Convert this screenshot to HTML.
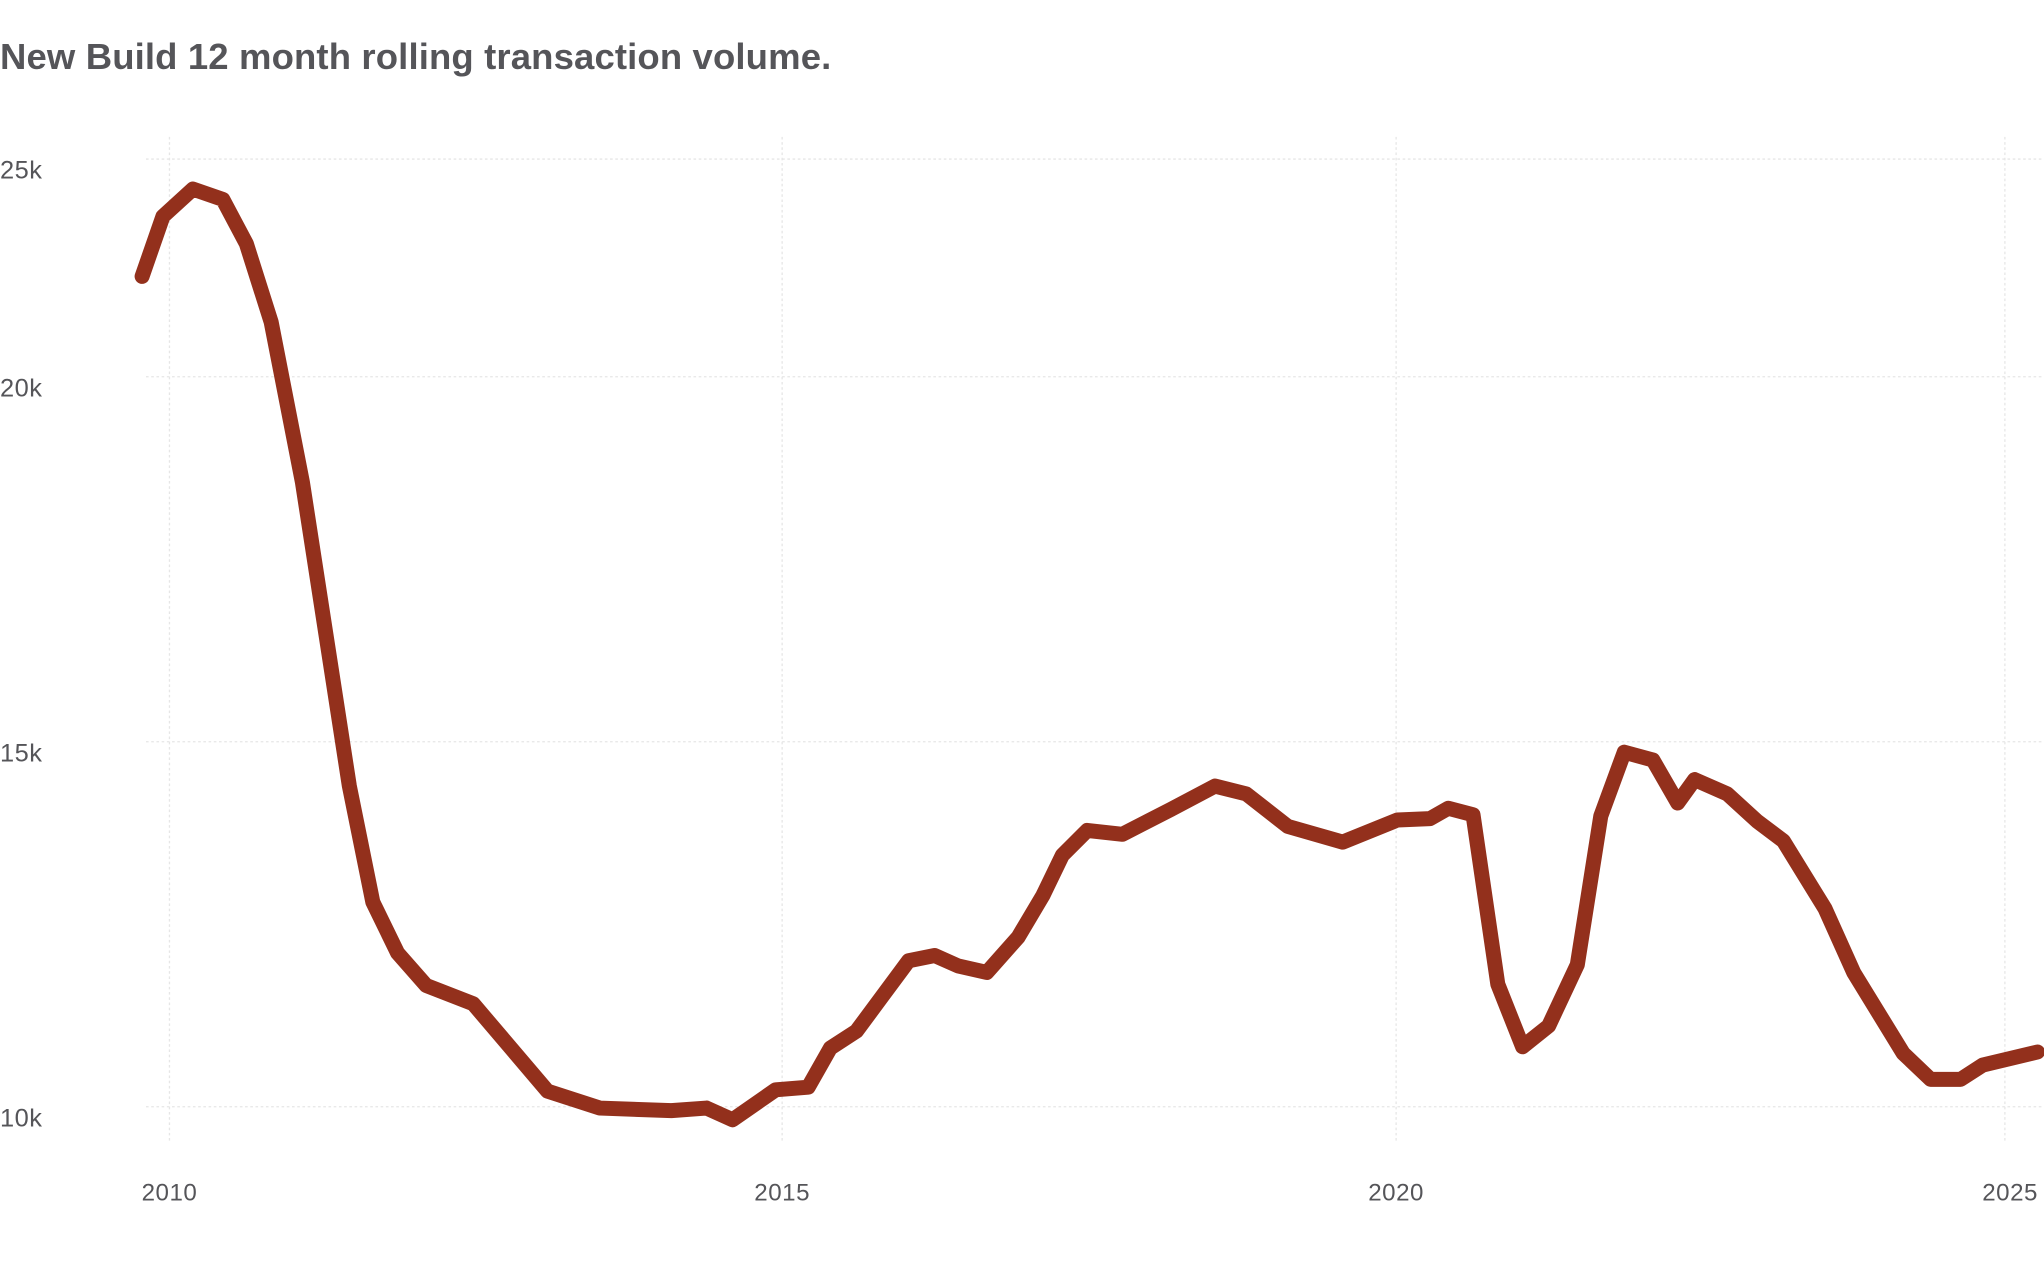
<!DOCTYPE html>
<html><head><meta charset="utf-8"><style>
html,body{margin:0;padding:0;background:#fff;}
svg{display:block;}
text{font-family:"Liberation Sans",sans-serif;}
</style></head><body>
<svg width="2044" height="1277" viewBox="0 0 1568 979.6" preserveAspectRatio="none" xmlns="http://www.w3.org/2000/svg">
<rect width="1568" height="979.6" fill="#fff"/>
<text x="0" y="53" font-size="28" font-weight="bold" fill="#555559" letter-spacing="0.1">New Build 12 month rolling transaction volume.</text>
<g stroke="#e6e6e6" stroke-width="1" stroke-dasharray="2,2">
<line x1="112" y1="122" x2="1568" y2="122"/>
<line x1="112" y1="289" x2="1568" y2="289"/>
<line x1="112" y1="569" x2="1568" y2="569"/>
<line x1="112" y1="849" x2="1568" y2="849"/>
<line x1="130" y1="105" x2="130" y2="875"/>
<line x1="600" y1="105" x2="600" y2="875"/>
<line x1="1071" y1="105" x2="1071" y2="875"/>
<line x1="1538" y1="105" x2="1538" y2="875"/>
</g>
<g font-size="18.5" fill="#555559" letter-spacing="0.4">
<text x="0" y="137" font-size="19.5">25k</text>
<text x="0" y="304" font-size="19.5">20k</text>
<text x="0" y="584" font-size="19.5">15k</text>
<text x="0" y="864" font-size="19.5">10k</text>
<g text-anchor="middle">
<text x="130" y="921">2010</text>
<text x="600" y="921">2015</text>
<text x="1071" y="921">2020</text>
<text x="1542" y="921">2025</text>
</g></g>
<polyline fill="none" stroke="#93301c" stroke-width="11.5" stroke-linejoin="round" stroke-linecap="round" points="109,212 125,166 148,145 171,153 189,187 208,247 232,370 268,603 286,692 305,731 327,756 363,770 420,837 460,850 515,852 542,850 562,859 595,836 620,834 637,804 657,791 697,737 717,733 735,741 757,746 781,719 800,687 815,656 834,637 861,640 898,621 932,603 956,609 988,634 1030,646 1072,629 1097,628 1111,620 1130,625 1149,755 1168,803 1188,787 1210,740 1228,626 1246,577 1268,583 1287,616 1300,598 1325,609 1348,630 1368,645 1400,697 1422,746 1460,808 1481,828 1504,828 1521,817 1563,807"/>
</svg>
</body></html>
